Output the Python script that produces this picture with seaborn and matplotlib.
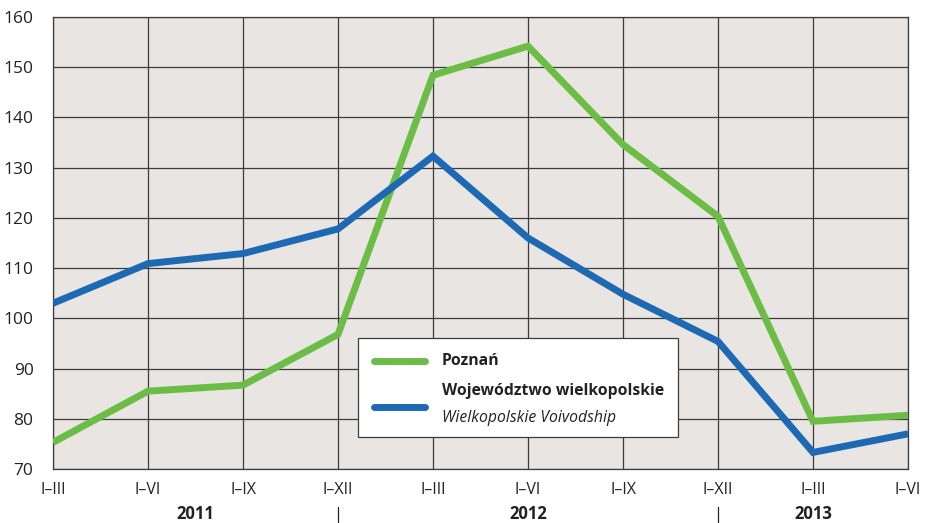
import pandas as pd
import matplotlib.pyplot as plt
import seaborn as sns
from matplotlib.lines import Line2D
from matplotlib.patches import Rectangle

# --- data ---
periods = ['I–III', 'I–VI', 'I–IX', 'I–XII', 'I–III', 'I–VI', 'I–IX', 'I–XII', 'I–III', 'I–VI']
years = ['2011', '2012', '2013']
year_spans = [(0, 3), (3, 7), (7, 9)]
poznan = [75.3, 85.5, 86.7, 96.8, 148.4, 154.2, 134.6, 120.3, 79.5, 80.7]
wielkopolska = [103.0, 110.9, 112.9, 117.8, 132.3, 116.0, 104.8, 95.4, 73.3, 77.0]

df = pd.DataFrame({
    'idx': list(range(len(periods))) * 2,
    'value': poznan + wielkopolska,
    'series': ['Poznań'] * len(periods) + ['Województwo wielkopolskie'] * len(periods),
})

sns.set_theme(style='white')
plt.rcParams['font.family'] = ['Open Sans', 'DejaVu Sans']

green = '#6cbd45'
blue = '#1e69b4'

fig = plt.figure(figsize=(9.25, 5.23), dpi=100)
ax = fig.add_axes([53 / 925, 1 - 469 / 523, 855 / 925, 452 / 523])
ax.set_facecolor('#e9e5e2')

sns.lineplot(data=df, x='idx', y='value', hue='series',
             palette=[green, blue], linewidth=5, legend=False, ax=ax,
             solid_capstyle='butt', solid_joinstyle='miter', zorder=3)

ax.set_xlim(0, len(periods) - 1)
ax.set_ylim(70, 160)
ax.set_yticks(range(70, 161, 10))
ax.set_xticks(range(len(periods)))
ax.set_xticklabels(periods, fontsize=11.5, color='#222222')
ax.tick_params(axis='y', labelsize=12.5, colors='#222222', length=0, pad=14)
ax.tick_params(axis='x', length=0, pad=9)
ax.grid(True, color='#3c3c3c', linewidth=0.9)
ax.set_axisbelow(True)
for s in ax.spines.values():
    s.set_color('#3c3c3c')
    s.set_linewidth(0.9)
ax.set_xlabel('')
ax.set_ylabel('')

# year labels and separators under the axis
trans = ax.get_xaxis_transform()
for yr, (a, b) in zip(years, year_spans):
    ax.text((a + b) / 2, -0.1, yr, transform=trans, ha='center', va='center',
            fontsize=12, fontweight='bold', color='#222222', clip_on=False)
for a, b in year_spans[:-1]:
    ax.plot([b, b], [-0.083, -0.118], transform=trans, color='#222222',
            linewidth=0.9, clip_on=False)

# custom legend box
ax.add_patch(Rectangle((0.357, 0.071), 0.374, 0.219, transform=ax.transAxes,
                       facecolor='white', edgecolor='#3c3c3c', linewidth=0.9, zorder=5))
ax.add_line(Line2D([0.375, 0.435], [0.24, 0.24], transform=ax.transAxes,
                   color=green, linewidth=5, solid_capstyle='round', zorder=6))
ax.add_line(Line2D([0.375, 0.435], [0.137, 0.137], transform=ax.transAxes,
                   color=blue, linewidth=5, solid_capstyle='round', zorder=6))
ax.text(0.455, 0.24, 'Poznań', transform=ax.transAxes, fontsize=11.3,
        fontweight='bold', va='center', color='#222222', zorder=6)
ax.text(0.455, 0.172, 'Województwo wielkopolskie', transform=ax.transAxes,
        fontsize=11.3, fontweight='bold', va='center', color='#222222', zorder=6)
ax.text(0.455, 0.112, 'Wielkopolskie Voivodship', transform=ax.transAxes,
        fontsize=11.3, style='italic', va='center', color='#222222', zorder=6)

fig.savefig('out.png', dpi=100)
